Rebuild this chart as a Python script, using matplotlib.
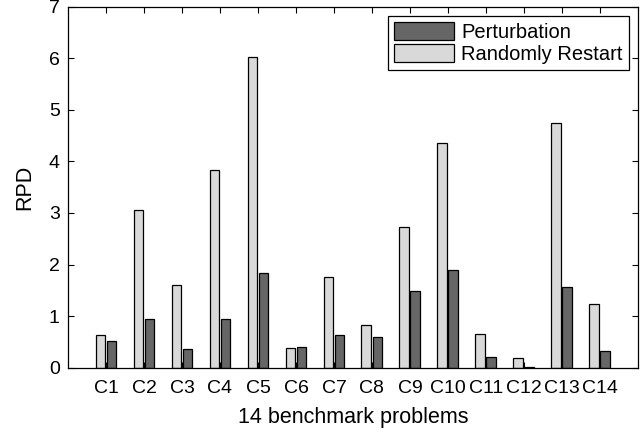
import matplotlib
matplotlib.use("Agg")
import matplotlib.pyplot as plt
import numpy as np

plt.rcParams['font.family'] = ['Liberation Sans', 'DejaVu Sans']

categories = ["C1", "C2", "C3", "C4", "C5", "C6", "C7", "C8", "C9", "C10", "C11", "C12", "C13", "C14"]
randomly_restart = [0.63, 3.05, 1.60, 3.84, 6.03, 0.39, 1.76, 0.83, 2.72, 4.35, 0.65, 0.18, 4.74, 1.23]
perturbation = [0.52, 0.94, 0.36, 0.94, 1.83, 0.40, 0.64, 0.59, 1.48, 1.89, 0.21, 0.01, 1.56, 0.32]

fig = plt.figure(figsize=(6.43, 4.32), dpi=100)
ax = fig.add_axes([0.1058, 0.149, 0.8862, 0.8355])

x = np.arange(1, len(categories) + 1)
w = 0.25
b_rr = ax.bar(x - 0.15, randomly_restart, width=w, color='#d9d9d9', edgecolor='black', linewidth=0.9, label='Randomly Restart')
b_p = ax.bar(x + 0.14, perturbation, width=w, color='#666666', edgecolor='black', linewidth=0.9, label='Perturbation')

ax.set_xlim(0, 15)
ax.set_ylim(0, 7)
ax.set_xticks(x)
ax.set_xticklabels(categories)
ax.set_yticks(range(0, 8))
ax.tick_params(direction='in', top=True, right=True, labelsize=14, length=4, width=0.8)
ax.tick_params(axis='x', pad=9)
ax.tick_params(axis='y', pad=6)
for s in ax.spines.values():
    s.set_linewidth(0.9)

ax.set_xlabel('14 benchmark problems', fontsize=15.5, labelpad=7)
ax.set_ylabel('RPD', fontsize=15.5, labelpad=10)

leg = ax.legend([b_p, b_rr], ['Perturbation', 'Randomly Restart'], loc='upper right',
                fontsize=14.5, fancybox=False, edgecolor='black', framealpha=1,
                borderpad=0.3, handlelength=3.0, handleheight=1.0, handletextpad=0.35,
                labelspacing=0.1, borderaxespad=0.45)
leg.get_frame().set_linewidth(0.9)

fig.savefig('out.png', dpi=100)
